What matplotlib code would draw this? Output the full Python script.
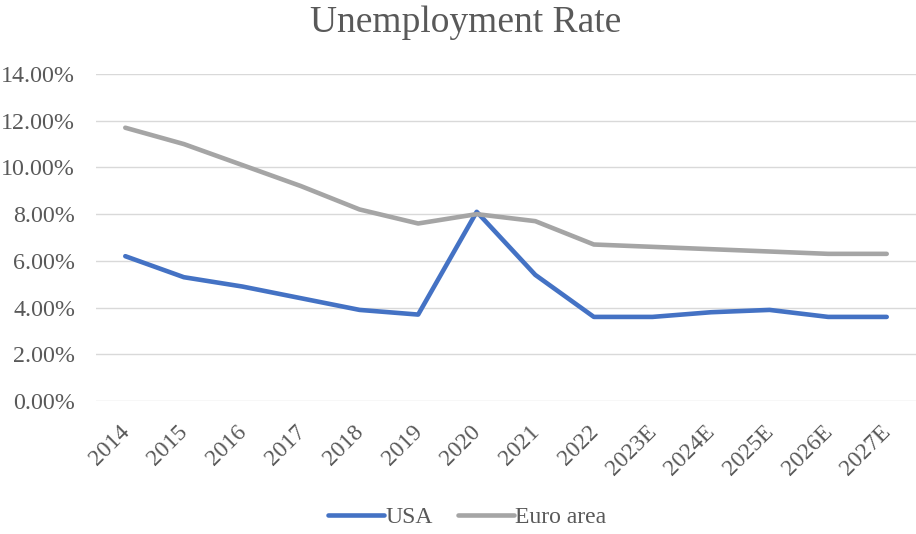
import matplotlib.pyplot as plt
from matplotlib.ticker import PercentFormatter
import matplotlib.transforms as mtransforms

years = ['2014', '2015', '2016', '2017', '2018', '2019', '2020', '2021',
         '2022', '2023E', '2024E', '2025E', '2026E', '2027E']
usa = [6.2, 5.3, 4.9, 4.4, 3.9, 3.7, 8.1, 5.4, 3.6, 3.6, 3.8, 3.9, 3.6, 3.6]
euro_area = [11.7, 11.0, 10.1, 9.2, 8.2, 7.6, 8.0, 7.7, 6.7, 6.6, 6.5, 6.4, 6.3, 6.3]

text_color = '#595959'
plt.rcParams['font.family'] = ['Liberation Serif', 'DejaVu Serif']

fig = plt.figure(figsize=(9.16, 5.34), dpi=100)
ax = fig.add_axes([96 / 916, 1 - 401 / 534, 820 / 916, 327 / 534])

x = range(len(years))
ax.plot(x, usa, color='#4472C4', lw=3.3, solid_capstyle='round',
        solid_joinstyle='round', label='USA')
ax.plot(x, euro_area, color='#A5A5A5', lw=3.3, solid_capstyle='round',
        solid_joinstyle='round', label='Euro area')

ax.set_xlim(-0.5, len(years) - 0.5)
ax.set_ylim(0, 14)
ax.set_yticks(range(0, 15, 2))
ax.yaxis.set_major_formatter(PercentFormatter(decimals=2))
ax.grid(axis='y', color='#D9D9D9', lw=1.0)
ax.set_axisbelow(True)
for side in ax.spines:
    ax.spines[side].set_visible(False)

# pads are in points (21 px ~ 15 pt)
ax.tick_params(axis='y', length=0, pad=15, labelsize=17.3, labelcolor=text_color)
ax.tick_params(axis='x', length=0, pad=20, labelsize=17, labelcolor=text_color)
ax.set_xticks(list(x))
ax.set_xticklabels(years, rotation=45, ha='right', va='center', rotation_mode='anchor')
shift = mtransforms.ScaledTranslation(1 / 100, 0, fig.dpi_scale_trans)
for lbl in ax.get_xticklabels():
    lbl.set_transform(lbl.get_transform() + shift)

fig.text(466 / 916, 1 - 23 / 534, 'Unemployment Rate', ha='center', va='center',
         fontsize=27, color=text_color)

leg = fig.legend(loc='center', bbox_to_anchor=(467 / 916, 1 - 517 / 534), ncol=2,
                 frameon=False, fontsize=17, handlelength=2.4, handletextpad=0.05,
                 columnspacing=1.05)
for t in leg.get_texts():
    t.set_color(text_color)

fig.savefig('out.png', dpi=100)
